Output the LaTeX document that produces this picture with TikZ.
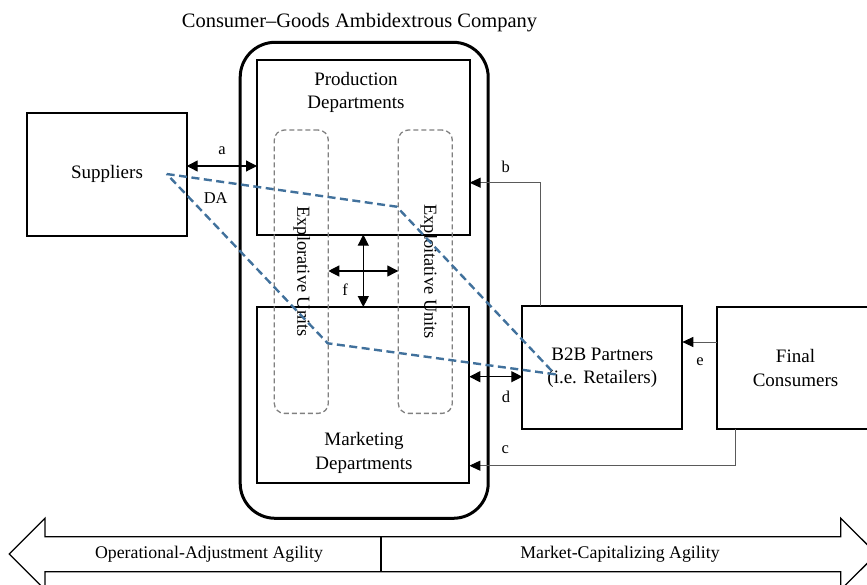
\documentclass[tikz,border=0pt]{standalone}
\usepackage{fontspec}
\setmainfont{Liberation Serif}
\usetikzlibrary{arrows.meta,calc}
\definecolor{dablue}{HTML}{41719C}
\definecolor{unitgray}{HTML}{808080}
\definecolor{linkgray}{HTML}{5A5A5A}
\begin{document}
\begin{tikzpicture}[x=1pt,y=-1pt,
  box/.style={draw,line width=2pt,inner sep=0pt,outer sep=0pt,align=center,font=\fontsize{19}{23.5}\selectfont},
  txt/.style={inner sep=0pt,align=center,font=\fontsize{19}{23.5}\selectfont},
  unitbox/.style={draw=unitgray,line width=1.3pt,dash pattern=on 5pt off 3pt,rounded corners=10pt,inner sep=0pt,outer sep=0pt},
  unittxt/.style={inner sep=0pt,rotate=-90,font=\fontsize{18.4}{22}\selectfont},
  lbl/.style={inner sep=0pt,font=\fontsize{16.5}{19}\selectfont},
  agtxt/.style={inner sep=0pt,font=\fontsize{17.8}{21}\selectfont},
  dbl/.style={{Triangle[length=11pt,width=11pt]}-{Triangle[length=11pt,width=11pt]},line width=1.2pt},
  link/.style={-{Triangle[length=11pt,width=10pt,color=black]},line width=1pt,draw=linkgray},
  dapath/.style={draw=dablue,line width=2.4pt,dash pattern=on 8pt off 4.5pt,line join=round}
]
\useasboundingbox (0,0) rectangle (867,585);

\node[inner sep=0pt,font=\fontsize{20.5}{24}\selectfont] (title) at (359.5,23) {Consumer–Goods Ambidextrous Company};

\node[draw,line width=3pt,rounded corners=35pt,minimum width=248pt,minimum height=476pt,inner sep=0pt,outer sep=0pt] (company) at (364.2,280.3) {};

\node[box,minimum width=212.6pt,minimum height=174.7pt] (prod) at (363.3,147.3) {};
\node[txt] (prodtxt) at (356,92.5) {Production\\Departments};
\node[box,minimum width=212pt,minimum height=176.3pt] (mkt) at (363.3,395.2) {};
\node[txt] (mkttxt) at (364,453) {Marketing\\Departments};

\node[unitbox,minimum width=54pt,minimum height=283.3pt] (explobox) at (301.3,271.7) {};
\node[unittxt] (explotxt) at (301.7,271.7) {Explorative Units};
\node[unitbox,minimum width=54pt,minimum height=283.3pt] (exploibox) at (425.3,271.7) {};
\node[unittxt] (exploitxt) at (428.8,271.7) {Exploitative Units};

\node[box,minimum width=159.4pt,minimum height=123pt] (sup) at (107,174.2) {Suppliers};
\node[box,minimum width=160pt,minimum height=123.3pt] (b2b) at (602.3,367.7) {B2B Partners\\(i.e. Retailers)};
\node[box,minimum width=157pt,minimum height=122.6pt] (fin) at (795.5,368) {Final\\Consumers};

% connectors
\coordinate (alev) at (220,166);
\draw[dbl] (alev -| sup.east) -- (alev -| prod.west);
\coordinate (bturn) at (540,182.7);
\draw[link] (b2b.north -| bturn) -- (bturn) -- (bturn -| prod.east);
\coordinate (elev) at (700,342);
\draw[link] (elev -| fin.west) -- (elev -| b2b.east);
\coordinate (cturn) at (735,465.7);
\draw[link] (fin.south -| cturn) -- (cturn) -- (cturn -| mkt.east);
\coordinate (dlev) at (500,376.7);
\draw[dbl] (dlev -| mkt.east) -- (dlev -| b2b.west);
\coordinate (fx) at (363.3,271);
\draw[dbl] (fx |- prod.south) -- (fx |- mkt.north);
\draw[dbl] (fx -| explobox.east) -- (fx -| exploibox.west);

% labels
\node[lbl] (la) at (222,150.7) {a};
\node[lbl] (lb) at (505.7,166.7) {b};
\node[lbl] (lc) at (505.3,450) {c};
\node[lbl] (ld) at (506,397.3) {d};
\node[lbl] (le) at (700,361.7) {e};
\node[lbl] (lf) at (345,289.3) {f};
\node[lbl] (lda) at (215.7,198.3) {DA};

% dynamic alignment region
\path[dapath] (166.7,174) -- (396.7,206.7) -- (555,374.3) -- (327.7,343.3) -- cycle;

% agility arrow
\draw[line width=1.3pt,line join=miter] (9.3,554) -- (45,518.3) -- (45,536.7) -- (840.7,536.7) -- (840.7,518.3) -- (876.7,554) -- (840.7,589.7) -- (840.7,571.7) -- (45,571.7) -- (45,589.7) -- cycle;
\draw[line width=1.3pt] (381,536.7) -- (381,571.7);
\node[agtxt] (opag) at (209,554) {Operational-Adjustment Agility};
\node[agtxt] (mkag) at (620,554) {Market-Capitalizing Agility};
\end{tikzpicture}
\end{document}
